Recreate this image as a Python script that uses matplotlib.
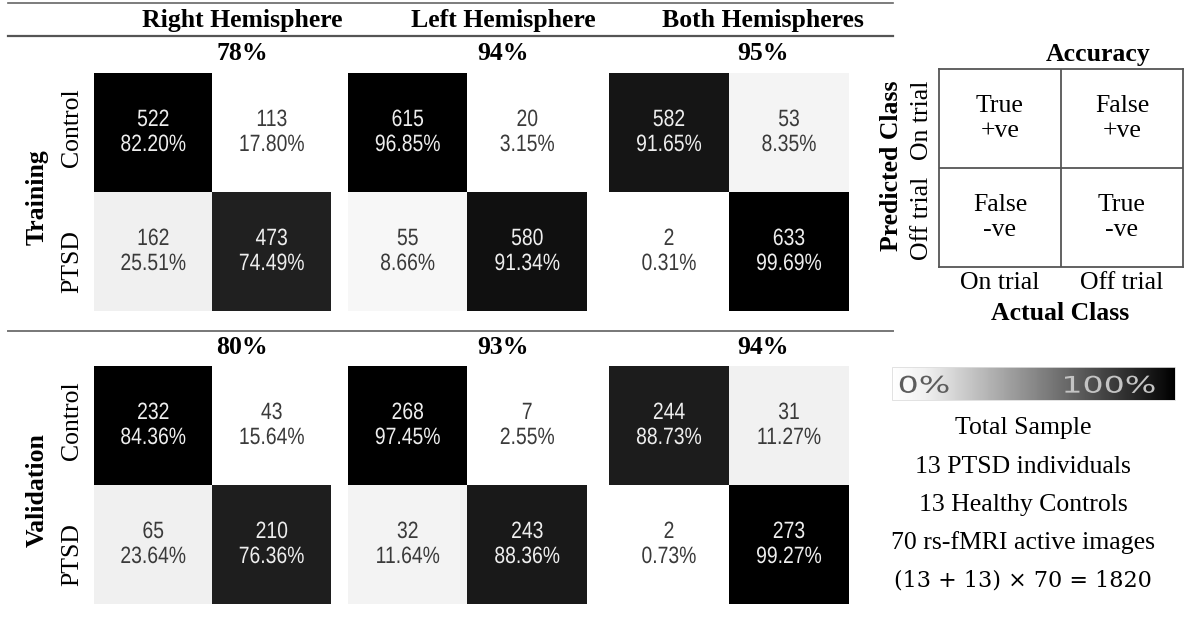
import numpy as np
import matplotlib
matplotlib.use("Agg")
import matplotlib.pyplot as plt
from matplotlib import font_manager, patheffects
from matplotlib.colors import LinearSegmentedColormap, Normalize
from matplotlib.cm import ScalarMappable
from matplotlib.lines import Line2D
from matplotlib.transforms import Affine2D

W, H = 1184, 618

# ---- data ----
SETS = ["Training", "Validation"]
HEMIS = ["Right Hemisphere", "Left Hemisphere", "Both Hemispheres"]
CLASSES = ["Control", "PTSD"]

TRAIN_COUNTS = [[[522, 113], [162, 473]],
                [[615, 20], [55, 580]],
                [[582, 53], [2, 633]]]
TRAIN_PCTS = [[[82.20, 17.80], [25.51, 74.49]],
              [[96.85, 3.15], [8.66, 91.34]],
              [[91.65, 8.35], [0.31, 99.69]]]
VAL_COUNTS = [[[232, 43], [65, 210]],
              [[268, 7], [32, 243]],
              [[244, 31], [2, 273]]]
VAL_PCTS = [[[84.36, 15.64], [23.64, 76.36]],
            [[97.45, 2.55], [11.64, 88.36]],
            [[88.73, 11.27], [0.73, 99.27]]]
TRAIN_ACC = [78, 94, 95]
VAL_ACC = [80, 93, 94]

KEY_CELLS = [["True\n+ve", "False\n+ve"], ["False\n-ve", "True\n-ve"]]
KEY_ROWS = ["On trial", "Off trial"]
KEY_COLS = ["On trial", "Off trial"]
SAMPLE_LINES = ["Total Sample", "13 PTSD individuals", "13 Healthy Controls",
                "70 rs-fMRI active images", "(13 + 13) \u00d7 70 = 1820"]

# ---- fonts ----
names = {f.name for f in font_manager.fontManager.ttflist}
SERIF = "Liberation Serif" if "Liberation Serif" in names else "DejaVu Serif"
NARROW = "Liberation Sans Narrow" in names
NUM_FONT = "Liberation Sans Narrow" if NARROW else "Liberation Sans"
FS = 18.5


class Squeeze(patheffects.AbstractPathEffect):
    """Scale glyphs horizontally about their own centre (fake condensed / wide font)."""

    def __init__(self, sx):
        super().__init__()
        self.sx = sx

    def draw_path(self, renderer, gc, tpath, affine, rgbFace=None):
        ext = tpath.get_extents()
        cx = (ext.x0 + ext.x1) / 2
        sq = Affine2D().translate(-cx, 0).scale(self.sx, 1).translate(cx, 0)
        renderer.draw_path(gc, tpath, sq + affine, rgbFace)


num_fx = [] if NARROW else [Squeeze(0.82)]

cmap = LinearSegmentedColormap.from_list(
    "cm", [(0.0, (1, 1, 1)), (0.12, (0.94, 0.94, 0.94)), (1.0, (0, 0, 0))])

fig = plt.figure(figsize=(W / 100, H / 100), dpi=100)


def px_axes(x0, y0, x1, y1):
    return fig.add_axes([x0 / W, 1 - y1 / H, (x1 - x0) / W, (y1 - y0) / H])


def px_text(x, y, s, **kw):
    kw.setdefault("ha", "center")
    kw.setdefault("va", "center")
    kw.setdefault("family", SERIF)
    kw.setdefault("fontsize", FS)
    return fig.text(x / W, 1 - y / H, s, **kw)


def hline(y, x0=8, x1=893, color="#555555", lw=1.6):
    fig.add_artist(Line2D([x0 / W, x1 / W], [1 - y / H, 1 - y / H],
                          color=color, lw=lw))


# layout (pixels)
mat_x = [(94, 331), (348, 587), (609, 849)]
mat_y = [(73, 311), (366, 604)]
head_x = [242, 503, 763]
acc_y = [53, 347]

hline(3, color="#666666", lw=1.2)
hline(36)
hline(331, color="#777777", lw=1.4)

for j, name in enumerate(HEMIS):
    px_text(head_x[j], 20, name, fontweight="bold")

all_counts = [TRAIN_COUNTS, VAL_COUNTS]
all_pcts = [TRAIN_PCTS, VAL_PCTS]
all_acc = [TRAIN_ACC, VAL_ACC]

for i, set_name in enumerate(SETS):
    y0, y1 = mat_y[i]
    px_text(37, (y0 + y1) / 2 + 5, set_name, fontweight="bold", rotation=90)
    cell_h = (y1 - y0) / 2
    px_text(72, y0 + cell_h / 2 - 5, CLASSES[0], rotation=90)
    px_text(72, y0 + cell_h * 1.5 + 10, CLASSES[1], rotation=90)
    for j in range(len(HEMIS)):
        x0, x1 = mat_x[j]
        counts = np.array(all_counts[i][j])
        pcts = np.array(all_pcts[i][j])
        px_text(head_x[j], acc_y[i], f"{all_acc[i][j]}%", fontweight="bold")
        ax = px_axes(x0, y0, x1, y1)
        vmin, vmax = counts.min(), counts.max()
        ax.imshow(counts, cmap=cmap, vmin=vmin, vmax=vmax, aspect="auto",
                  interpolation="nearest")
        for r in range(2):
            for c in range(2):
                frac = (counts[r, c] - vmin) / (vmax - vmin)
                col = "#eeeeee" if frac > 0.5 else "#3a3a3a"
                for k, s in enumerate([f"{counts[r, c]}", f"{pcts[r, c]:.2f}%"]):
                    ax.text(c, r - 0.105 + k * 0.21, s, ha="center", va="center",
                            color=col, family=NUM_FONT, fontsize=17,
                            path_effects=num_fx)
        ax.set_axis_off()

# ---- key on the right ----
kax = px_axes(939, 69, 1183, 267)
kax.set_xlim(0, 2)
kax.set_ylim(2, 0)
kax.set_xticks([])
kax.set_yticks([])
for sp in kax.spines.values():
    sp.set_color("#555555")
    sp.set_linewidth(1.3)
kax.axhline(1, color="#555555", lw=1.3)
kax.axvline(1, color="#555555", lw=1.3)
for r in range(2):
    for c in range(2):
        kax.text(c + 0.5, r + 0.5, KEY_CELLS[r][c], ha="center", va="center",
                 family=SERIF, fontsize=FS, linespacing=1.15)

px_text(1098, 54, "Accuracy", fontweight="bold")
px_text(892, 166, "Predicted Class", fontweight="bold", rotation=90)
px_text(922, 120, KEY_ROWS[0], rotation=90)
px_text(922, 218, KEY_ROWS[1], rotation=90)
px_text(1000, 283, KEY_COLS[0])
px_text(1122, 283, KEY_COLS[1])
px_text(1060, 313, "Actual Class", fontweight="bold")

# ---- colour bar ----
cax = px_axes(892, 367, 1175, 400)
cb = fig.colorbar(ScalarMappable(norm=Normalize(0, 100), cmap=cmap),
                  cax=cax, orientation="horizontal")
cb.set_ticks([])
cb.outline.set_edgecolor("#dddddd")
cb.outline.set_linewidth(0.6)
wide = [Squeeze(1.45)]
cax.text(0.113, 0.42, "0%", transform=cax.transAxes, ha="center", va="center",
         color="#5c5c5c", family="DejaVu Sans", fontsize=16.5, path_effects=wide)
cax.text(0.767, 0.42, "100%", transform=cax.transAxes, ha="center", va="center",
         color="#c4c4c4", family="DejaVu Sans", fontsize=16.5, path_effects=wide)

sample_y = [428, 467, 505, 543, 580]
for k, line in enumerate(SAMPLE_LINES):
    if k == len(SAMPLE_LINES) - 1:
        px_text(1023, sample_y[k], line, family="DejaVu Serif", fontsize=16)
    else:
        px_text(1023, sample_y[k], line)

fig.savefig("out.png", dpi=100)
